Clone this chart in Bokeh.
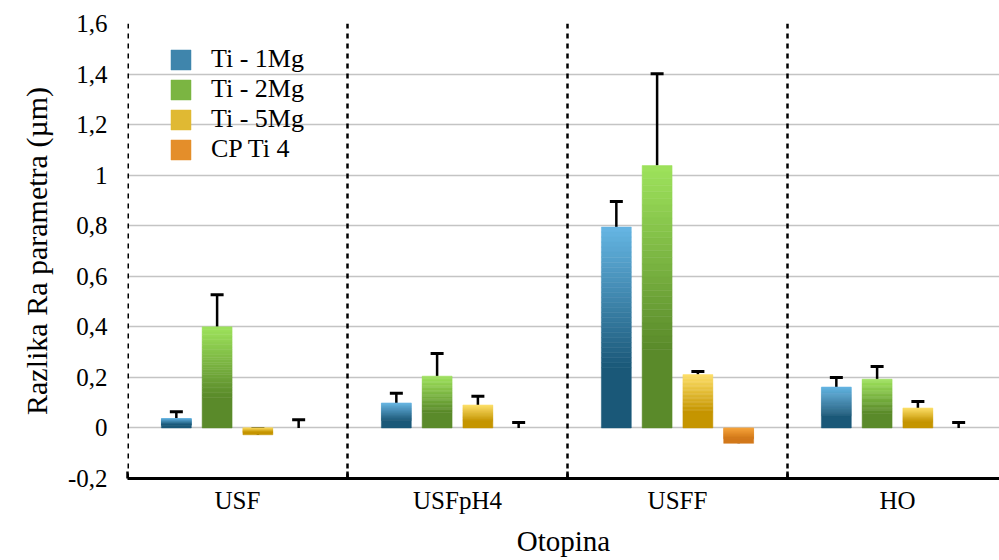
from bokeh.plotting import figure
from bokeh.models import (Range1d, FixedTicker, Span, Legend, LegendItem, Whisker,
                          ColumnDataSource, TeeHead)
from bokeh.embed import file_html
from bokeh.resources import INLINE

# ---- data ----
groups = ["USF", "USFpH4", "USFF", "HO"]
series = ["Ti - 1Mg", "Ti - 2Mg", "Ti - 5Mg", "CP Ti 4"]
ti1mg = [0.037, 0.099, 0.795, 0.162]
ti2mg = [0.400, 0.205, 1.038, 0.193]
ti5mg = [-0.027, 0.091, 0.211, 0.079]
cpti4 = [0.0, 0.0, -0.061, 0.0]
err_ti1mg = [0.027, 0.038, 0.101, 0.038]
err_ti2mg = [0.127, 0.090, 0.363, 0.050]
err_ti5mg = [0.025, 0.034, 0.012, 0.026]
err_cpti4 = [0.032, 0.022, 0.011, 0.022]
y_ticks = [-0.2, 0.0, 0.2, 0.4, 0.6, 0.8, 1.0, 1.2, 1.4, 1.6]
y_tick_labels = ["-0,2", "0", "0,2", "0,4", "0,6", "0,8", "1", "1,2", "1,4", "1,6"]

values = [ti1mg, ti2mg, ti5mg, cpti4]
errors = [err_ti1mg, err_ti2mg, err_ti5mg, err_cpti4]

# ---- style ----
colors = [("#66b6e4", "#1a5878"), ("#9ee35c", "#5a8a2a"),
          ("#fee06a", "#c59500"), ("#f7a53c", "#d2781a")]
offsets = [-0.278, -0.0927, 0.0927, 0.278]
bar_w = 0.136
FONT = "Liberation Serif"


def mix(c1, c2, t):
    a = [int(c1[i:i + 2], 16) for i in (1, 3, 5)]
    b = [int(c2[i:i + 2], 16) for i in (1, 3, 5)]
    return "#%02x%02x%02x" % tuple(round(a[k] + (b[k] - a[k]) * t) for k in range(3))


W, H = 999, 560
p = figure(width=W, height=H, output_backend="svg", toolbar_location=None,
           x_range=Range1d(0, 872 / 220), y_range=Range1d(-0.2, 1.6),
           min_border_left=127, min_border_right=0, min_border_top=23,
           min_border_bottom=82)
p.outline_line_color = None
p.background_fill_color = "white"

# grid
p.xgrid.visible = False
p.ygrid.ticker = FixedTicker(ticks=y_ticks)
p.ygrid.grid_line_color = "#c4c4c4"
p.ygrid.grid_line_width = 1.5

# separators
for loc in range(len(groups)):
    p.add_layout(Span(location=loc, dimension="height", line_color="black",
                      line_width=3 if loc == 0 else 2.5, line_dash="5 5"))

NS = 28
legend_items = []
for s, (vals, errs) in enumerate(zip(values, errors)):
    light, dark = colors[s]
    xs, tops, bots, cols = [], [], [], []
    for g, v in enumerate(vals):
        if v == 0:
            continue
        x = g + 0.5 + offsets[s]
        top, bot = max(v, 0.0), min(v, 0.0)
        h = top - bot
        for k in range(NS):
            t0, t1 = k / NS * 0.7, (k + 1) / NS * 0.7
            xs.append(x); tops.append(top - t0 * h); bots.append(top - t1 * h)
            cols.append(mix(light, dark, (k + 0.5) / NS))
        xs.append(x); tops.append(top - 0.7 * h); bots.append(bot); cols.append(dark)
    src = ColumnDataSource(dict(x=xs, top=tops, bottom=bots, c=cols))
    r = p.vbar(x="x", top="top", bottom="bottom", width=bar_w, source=src,
               fill_color="c", line_color="c", line_width=0.5)
    legend_items.append(LegendItem(label=series[s], renderers=[r], index=NS // 2))

    ex = [g + 0.5 + offsets[s] for g in range(len(vals))]
    esrc = ColumnDataSource(dict(x=ex, lo=vals, hi=[v + e for v, e in zip(vals, errs)]))
    p.add_layout(Whisker(base="x", lower="lo", upper="hi", source=esrc,
                         line_color="black", line_width=2.5,
                         upper_head=TeeHead(size=13, line_width=3, line_color="black"),
                         lower_head=None))

legend = Legend(items=legend_items, location=(41, 314), padding=0, spacing=-3,
                glyph_width=25, glyph_height=25, label_height=24,
                label_standoff=18, label_text_font=FONT, label_text_font_size="26px",
                label_text_color="black",
                background_fill_alpha=0, border_line_color=None, margin=0)
p.add_layout(legend, "center")

# axes
xa = p.xaxis[0]
xa.ticker = FixedTicker(ticks=[g + 0.5 for g in range(len(groups))],
                        minor_ticks=list(range(len(groups) + 1)))
xa.major_label_overrides = {g + 0.5: name for g, name in enumerate(groups)}
xa.major_tick_in = 0
xa.major_tick_out = 0
xa.minor_tick_in = 7
xa.minor_tick_out = 0
xa.minor_tick_line_color = "black"
xa.minor_tick_line_width = 2.5
xa.axis_line_color = "black"
xa.axis_line_width = 3
xa.major_label_text_font = FONT
xa.major_label_text_font_size = "25px"
xa.major_label_text_color = "black"
xa.major_label_standoff = 8
xa.axis_label = "Otopina"
xa.axis_label_text_font = FONT
xa.axis_label_text_font_size = "29px"
xa.axis_label_text_font_style = "normal"
xa.axis_label_text_color = "black"
xa.axis_label_standoff = 8

ya = p.yaxis[0]
ya.ticker = FixedTicker(ticks=y_ticks)
ya.major_label_overrides = {t: l for t, l in zip(y_ticks, y_tick_labels)}
ya.axis_line_color = None
ya.major_tick_line_color = None
ya.minor_tick_line_color = None
ya.major_label_text_font = FONT
ya.major_label_text_font_size = "25px"
ya.major_label_text_color = "black"
ya.major_label_standoff = 14
ya.axis_label = "Razlika Ra parametra (µm)"
ya.axis_label_text_font = FONT
ya.axis_label_text_font_size = "30px"
ya.axis_label_text_font_style = "normal"
ya.axis_label_text_color = "black"
ya.axis_label_standoff = 12

open("out.html", "w").write(file_html(p, INLINE))
